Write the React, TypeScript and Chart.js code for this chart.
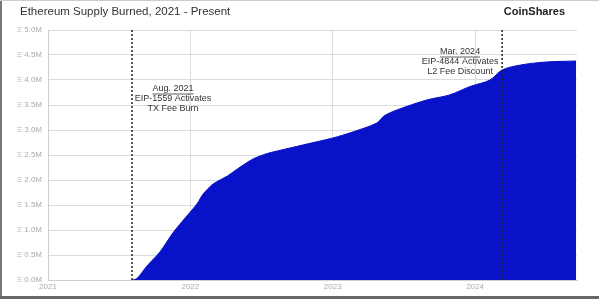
import React, { useEffect, useRef } from "react";
import { Chart, registerables } from "chart.js";

Chart.register(...registerables);

const titleText = "Ethereum Supply Burned, 2021 - Present";
const brandText = "CoinShares";

// x as decimal years, y in millions of ETH
const burnDates = [
  2021.59, 2021.625, 2021.695, 2021.786, 2021.877, 2021.975, 2022.046, 2022.09, 2022.16,
  2022.26, 2022.33, 2022.44, 2022.54, 2022.61, 2022.79, 2023.0, 2023.14, 2023.31, 2023.36,
  2023.45, 2023.66, 2023.82, 2023.965, 2024.105, 2024.19, 2024.32, 2024.5, 2024.71,
];
const burnValues = [
  0, 0.03, 0.28, 0.56, 0.94, 1.28, 1.52, 1.72, 1.92,
  2.08, 2.22, 2.42, 2.53, 2.58, 2.7, 2.84, 2.96, 3.14, 3.28,
  3.4, 3.6, 3.7, 3.87, 4.0, 4.2, 4.3, 4.36, 4.38,
];

const xTicks = [2021, 2022, 2023, 2024];
const yTicks = [0, 0.5, 1, 1.5, 2, 2.5, 3, 3.5, 4, 4.5, 5];

const eventDates = [2021.59, 2024.19];
const eventTitles = ["Aug. 2021", "Mar. 2024"];
const eventLine1 = ["EIP-1559 Activates", "EIP-4844 Activates"];
const eventLine2 = ["TX Fee Burn", "L2 Fee Discount"];

export default function App() {
  const ref = useRef<HTMLCanvasElement>(null);

  useEffect(() => {
    document.body.style.margin = "0";
    const canvas = ref.current;
    if (!canvas) return;

    const decor = {
      id: "decor",
      beforeDraw(chart: any) {
        const { ctx } = chart;
        ctx.save();
        ctx.fillStyle = "#ffffff";
        ctx.fillRect(0, 0, chart.width, chart.height);
        ctx.restore();
      },
      afterDatasetsDraw(chart: any) {
        const { ctx, chartArea, scales } = chart;
        ctx.save();
        // event lines
        eventDates.forEach((d, i) => {
          const x = scales.x.getPixelForValue(d);
          ctx.strokeStyle = "#222";
          ctx.lineWidth = 1.5;
          ctx.setLineDash([2, 2]);
          ctx.beginPath();
          ctx.moveTo(x, chartArea.top);
          ctx.lineTo(x, chartArea.bottom);
          ctx.stroke();
          ctx.setLineDash([]);

          const cx = i === 0 ? x + 41 : x - 42;
          const y0 = i === 0 ? 89 : 52;
          ctx.fillStyle = "#333";
          ctx.font = "9px 'Liberation Sans', Arial, sans-serif";
          ctx.textAlign = "center";
          ctx.textBaseline = "middle";
          ctx.fillText(eventTitles[i], cx, y0);
          const w = ctx.measureText(eventTitles[i]).width;
          ctx.strokeStyle = "#333";
          ctx.lineWidth = 0.8;
          ctx.beginPath();
          ctx.moveTo(cx - w / 2, y0 + 5);
          ctx.lineTo(cx + w / 2, y0 + 5);
          ctx.stroke();
          ctx.fillText(eventLine1[i], cx, y0 + 10);
          ctx.fillText(eventLine2[i], cx, y0 + 20);
        });

        // title and brand
        ctx.fillStyle = "#333";
        ctx.textAlign = "left";
        ctx.textBaseline = "middle";
        ctx.font = "11.5px 'Liberation Sans', Arial, sans-serif";
        ctx.fillText(titleText, 20, 12);
        ctx.fillStyle = "#222";
        ctx.font = "600 11px 'Liberation Sans', Arial, sans-serif";
        ctx.textAlign = "right";
        ctx.fillText(brandText, 565, 12);

        // image frame
        ctx.fillStyle = "#777";
        ctx.fillRect(0, 0, 2, chart.height);
        ctx.fillStyle = "#666";
        ctx.fillRect(0, chart.height - 3, chart.width, 3);
        ctx.fillStyle = "#ccc";
        ctx.fillRect(0, 0, chart.width, 1);
        ctx.restore();
      },
    };

    const chart = new Chart(canvas, {
      type: "line",
      data: {
        datasets: [
          {
            data: burnDates.map((d, i) => ({ x: d, y: burnValues[i] })),
            fill: "origin",
            backgroundColor: "rgb(8, 18, 200)",
            borderColor: "rgb(8, 18, 200)",
            borderWidth: 1,
            pointRadius: 0,
            tension: 0.3,
          },
        ],
      },
      options: {
        animation: false,
        responsive: false,
        devicePixelRatio: 1,
        layout: { padding: { left: 0, top: 30, right: 22, bottom: 0 } },
        plugins: {
          legend: { display: false },
          tooltip: { enabled: false },
          title: { display: false },
        },
        scales: {
          x: {
            type: "linear",
            min: 2021,
            max: 2024.716,
            afterBuildTicks: (s: any) => {
              s.ticks = xTicks.map((v) => ({ value: v }));
            },
            afterFit: (s: any) => {
              s.height = 19;
            },
            ticks: {
              callback: (v: any) => String(v),
              color: "#aaa",
              font: { size: 8, family: "'Liberation Sans', Arial, sans-serif" },
              padding: 2,
              maxRotation: 0,
            },
            grid: { color: "#dcdcdc", lineWidth: 1, drawTicks: false },
            border: { color: "#cfcfcf" },
          },
          y: {
            min: 0,
            max: 5,
            afterBuildTicks: (s: any) => {
              s.ticks = yTicks.map((v) => ({ value: v }));
            },
            afterFit: (s: any) => {
              s.width = 48;
            },
            ticks: {
              callback: (v: any) => `Ξ ${Number(v).toFixed(1)}M`,
              color: "#aaa",
              font: { size: 8, family: "'Liberation Sans', Arial, sans-serif" },
              padding: 6,
            },
            grid: { color: "#dcdcdc", lineWidth: 1, drawTicks: false },
            border: { color: "#cfcfcf" },
          },
        },
      },
      plugins: [decor],
    });
    return () => chart.destroy();
  }, []);

  return (
    <div style={{ width: 599, height: 299 }}>
      <canvas ref={ref} width={599} height={299} style={{ display: "block", width: 599, height: 299 }} />
    </div>
  );
}
